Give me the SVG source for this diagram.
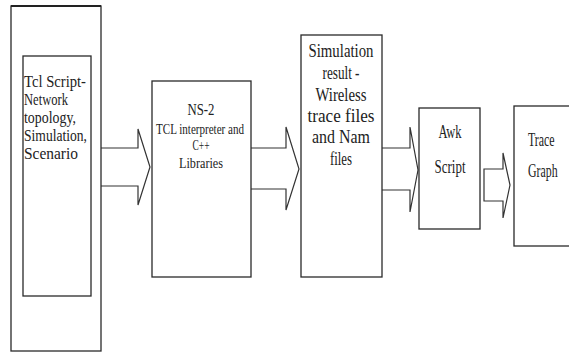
<svg xmlns="http://www.w3.org/2000/svg" width="569" height="352" viewBox="0 0 569 352">
<style>
.box{fill:#fff;stroke:#2a2a2a;stroke-width:1.3}
.arr{fill:none;stroke:#333;stroke-width:1.2;stroke-linejoin:miter}
text{font-family:"Liberation Serif","Times New Roman",serif;fill:#222;font-size:17px}
.m{text-anchor:middle}
.s{font-size:15px}
.b{font-size:18px}
</style>
<rect width="569" height="352" fill="#fff"/>
<g id="connectors">
<path class="arr" d="M101,148 H138 V129 L150,167 L138,205 V186 H101"/>
<path class="arr" d="M251,148 H286 V127 L299,169 L286,210 V189 H251"/>
<path class="arr" d="M382,148 H410 V127 L418,170 L410,212 V190 H382"/>
<path class="arr" d="M484,169 H503 V153 L510,185 L503,218 V201 H484 Z"/>
</g>
<g id="tcl-outer">
<rect class="box" x="11" y="6" width="90" height="345"/>
<line x1="11" y1="6" x2="101" y2="6" stroke="#222" stroke-width="2"/>
</g>
<g id="tcl-script">
<rect class="box" x="23" y="56" width="68" height="240"/>
<text x="24" y="87" textLength="62" lengthAdjust="spacingAndGlyphs">Tcl Script-</text>
<text x="24" y="105" textLength="44" lengthAdjust="spacingAndGlyphs">Network</text>
<text x="24" y="123" textLength="52" lengthAdjust="spacingAndGlyphs">topology,</text>
<text x="24" y="141" textLength="63" lengthAdjust="spacingAndGlyphs">Simulation,</text>
<text x="24" y="159" textLength="54" lengthAdjust="spacingAndGlyphs">Scenario</text>
</g>
<g id="ns2">
<rect class="box" x="152" y="81" width="99" height="196"/>
<text class="m" x="201" y="115" textLength="27" lengthAdjust="spacingAndGlyphs">NS-2</text>
<text class="m s" x="200" y="134" textLength="88" lengthAdjust="spacingAndGlyphs">TCL interpreter and</text>
<text class="m s" x="201" y="150" textLength="17" lengthAdjust="spacingAndGlyphs">C++</text>
<text class="m s" x="201" y="168" textLength="44" lengthAdjust="spacingAndGlyphs">Libraries</text>
</g>
<g id="simulation">
<rect class="box" x="301" y="35" width="81" height="242"/>
<text class="m b" x="341" y="57" textLength="65" lengthAdjust="spacingAndGlyphs">Simulation</text>
<text class="m b" x="341" y="79" textLength="37" lengthAdjust="spacingAndGlyphs">result -</text>
<text class="m b" x="341" y="101" textLength="51" lengthAdjust="spacingAndGlyphs">Wireless</text>
<text class="m b" x="341" y="122" textLength="67" lengthAdjust="spacingAndGlyphs">trace files</text>
<text class="m b" x="341" y="143" textLength="58" lengthAdjust="spacingAndGlyphs">and Nam</text>
<text class="m b" x="341" y="165" textLength="22" lengthAdjust="spacingAndGlyphs">files</text>
</g>
<g id="awk">
<rect class="box" x="419" y="108" width="61" height="121"/>
<text class="m b" x="450" y="138" textLength="23" lengthAdjust="spacingAndGlyphs">Awk</text>
<text class="m b" x="450" y="173" textLength="31" lengthAdjust="spacingAndGlyphs">Script</text>
</g>
<g id="trace">
<rect class="box" x="514" y="106" width="70" height="140"/>
<text class="b" transform="translate(528,146) scale(0.66,1)">Trace</text>
<text class="b" transform="translate(528,177) scale(0.66,1)">Graph</text>
</g>
</svg>
